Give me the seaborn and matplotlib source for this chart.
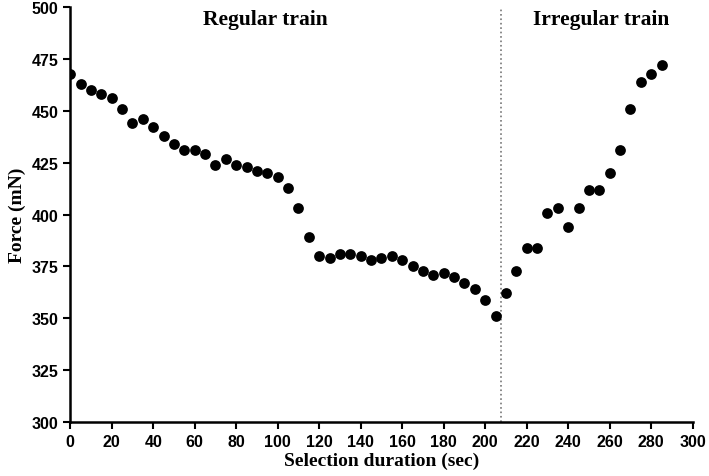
import numpy as np
import pandas as pd
import matplotlib
matplotlib.use("Agg")
import matplotlib.pyplot as plt
import seaborn as sns

time_sec = list(range(0, 290, 5))
force_mn = [
    468, 463, 460, 458, 456, 451, 444, 446, 442, 438,
    434, 431, 431, 429, 424, 427, 424, 423, 421, 420,
    418, 413, 403, 389, 380, 379, 381, 381, 380, 378,
    379, 380, 378, 375, 373, 371, 372, 370, 367, 364,
    359, 351, 362, 373, 384, 384, 401, 403, 394, 403,
    412, 412, 420, 431, 451, 464, 468, 472,
]
switch_time = 207.5
x_ticks = list(range(0, 301, 20))
y_ticks = list(range(300, 501, 25))

df = pd.DataFrame({"time": time_sec, "force": force_mn})

sns.set_style("ticks")
plt.rcParams["font.family"] = ["Liberation Sans", "DejaVu Sans"]
plt.rcParams["text.color"] = "black"
plt.rcParams["axes.labelcolor"] = "black"
plt.rcParams["xtick.color"] = "black"
plt.rcParams["ytick.color"] = "black"
plt.rcParams["axes.edgecolor"] = "black"

fig = plt.figure(figsize=(7.09, 4.77), dpi=100)
ax = fig.add_axes([0.099, 0.113, 0.878, 0.87])

sns.scatterplot(data=df, x="time", y="force", ax=ax, color="black",
                s=60, edgecolor="black", linewidth=0, zorder=3)

ax.axvline(switch_time, color="#777777", linestyle=":", linewidth=1.2)

serif = ["Liberation Serif", "DejaVu Serif"]
ax.text(94, 494.5, "Regular train", ha="center", va="center",
        fontsize=15.5, fontweight="bold", family=serif)
ax.text(256, 494.5, "Irregular train", ha="center", va="center",
        fontsize=15.5, fontweight="bold", family=serif)

ax.set_xlim(0, 300)
ax.set_ylim(300, 500)
ax.set_xticks(x_ticks)
ax.set_yticks(y_ticks)
ax.tick_params(axis="both", labelsize=11.5, width=1.5, length=5, direction="out")
for lab in ax.get_xticklabels() + ax.get_yticklabels():
    lab.set_fontweight("bold")

ax.set_xlabel("Selection duration (sec)", fontsize=14, fontweight="bold",
              family=serif, labelpad=2)
ax.set_ylabel("Force (mN)", fontsize=14, fontweight="bold",
              family=serif, labelpad=4)

for side in ["top", "right"]:
    ax.spines[side].set_visible(False)
for side in ["left", "bottom"]:
    ax.spines[side].set_linewidth(1.8)

fig.savefig("out.png", dpi=100)
